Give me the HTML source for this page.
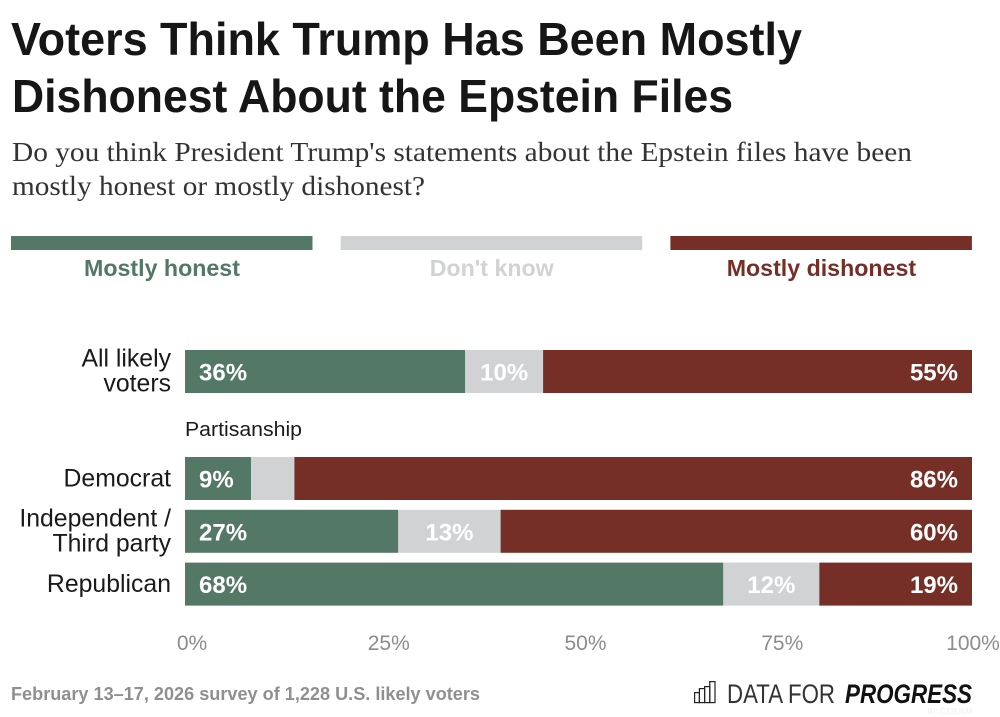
<!DOCTYPE html>
<html lang="en">
<head>
<meta charset="utf-8">
<title>Voters Think Trump Has Been Mostly Dishonest About the Epstein Files</title>
<style>
html,body{margin:0;padding:0;background:#fff;width:1000px;height:717px;overflow:hidden}
svg{display:block}
text{font-family:"Liberation Sans",sans-serif}
.serif{font-family:"Liberation Serif",serif}
</style>
</head>
<body>
<svg id="chart" xmlns="http://www.w3.org/2000/svg" width="1000" height="717" viewBox="0 0 1000 717">
  <rect x="0" y="0" width="1000" height="717" fill="#fff"/>
  <text x="11" y="55" font-size="46" font-weight="700" fill="#161616" textLength="791" lengthAdjust="spacingAndGlyphs">Voters Think Trump Has Been Mostly</text>
  <text x="12" y="112" font-size="46" font-weight="700" fill="#161616" textLength="721" lengthAdjust="spacingAndGlyphs">Dishonest About the Epstein Files</text>
  <text class="serif" x="12" y="161" font-size="27" fill="#333" textLength="900" lengthAdjust="spacingAndGlyphs">Do you think President Trump's statements about the Epstein files have been</text>
  <text class="serif" x="12" y="195" font-size="27" fill="#333" textLength="413" lengthAdjust="spacingAndGlyphs">mostly honest or mostly dishonest?</text>

  <g id="legend"></g>
  <g id="rows"></g>
  <text x="185" y="436" font-size="20" fill="#1a1a1a" textLength="117" lengthAdjust="spacingAndGlyphs">Partisanship</text>
  <g id="x-axis"></g>

  <text x="11" y="700" font-size="18" font-weight="700" fill="#8f8f8f" textLength="469" lengthAdjust="spacingAndGlyphs">February 13–17, 2026 survey of 1,228 U.S. likely voters</text>

  <g>
    <g fill="none" stroke="#222" stroke-width="1.2">
      <rect x="694.6" y="692.6" width="4.8" height="10"/>
      <rect x="699.4" y="688.6" width="5.2" height="14"/>
      <rect x="704.6" y="686.6" width="5.2" height="16"/>
      <rect x="709.8" y="681.6" width="5.2" height="21"/>
    </g>
    <text x="727" y="703" font-size="27" fill="#333" textLength="108" lengthAdjust="spacingAndGlyphs">DATA FOR</text>
    <text x="845" y="703" font-size="27" font-weight="700" font-style="italic" fill="#111" textLength="127" lengthAdjust="spacingAndGlyphs">PROGRESS</text>
  </g>
  <text x="972" y="714" font-size="8" text-anchor="end" fill="#efefef">ID: CZ2U6M</text>
</svg>
<script>
var categories = ['All likely voters', 'Democrat', 'Independent / Third party', 'Republican'];
var categoryLines = [['All likely', 'voters'], ['Democrat'], ['Independent /', 'Third party'], ['Republican']];
var seriesNames = ['Mostly honest', "Don't know", 'Mostly dishonest'];
var honest = [35.6, 8.4, 27.1, 68.4];
var dontKnow = [9.9, 5.5, 13.0, 12.2];
var dishonest = [54.5, 86.1, 59.9, 19.4];
var honestLabels = ['36%', '9%', '27%', '68%'];
var dontKnowLabels = ['10%', '', '13%', '12%'];
var dishonestLabels = ['55%', '86%', '60%', '19%'];
var tickValues = [0, 25, 50, 75, 100];
var tickLabels = ['0%', '25%', '50%', '75%', '100%'];

var NS = 'http://www.w3.org/2000/svg';
var COLORS = ['#537865', '#d1d2d4', '#762f26'];
var PLOT_LEFT = 185, PLOT_WIDTH = 787, BAR_H = 43;

function xScale(v) { return PLOT_LEFT + v / 100 * PLOT_WIDTH; }
function yScale(i) { return i === 0 ? 350 : 457 + (i - 1) * 52.8; }
function mk(tag, parent, attrs, text) {
  var el = document.createElementNS(NS, tag);
  for (var k in attrs) el.setAttribute(k, attrs[k]);
  if (text !== undefined) el.textContent = text;
  parent.appendChild(el);
  return el;
}

var legend = document.getElementById('legend');
seriesNames.forEach(function (name, s) {
  var left = 11 + s * 329.7;
  var swatch = mk('rect', legend, { x: left, y: 236, width: 301.5, height: 14, fill: COLORS[s] });
  
  
  var label = mk('text', legend, { x: left + 151, y: 276, 'font-size': 23.2, 'font-weight': 700, 'text-anchor': 'middle', fill: COLORS[s] }, name);
  
  
});

var rowsG = document.getElementById('rows');
var series = [honest, dontKnow, dishonest];
var labels = [honestLabels, dontKnowLabels, dishonestLabels];
categories.forEach(function (cat, i) {
  var y = yScale(i);
  var lines = categoryLines[i];
  var mid = y + BAR_H / 2;
  lines.forEach(function (line, n) {
    var base = lines.length === 1 ? mid + 8 : mid + 7.7 + (n - 0.5) * 25;
    var t = mk('text', rowsG, { x: 171, y: base, 'font-size': 24.8, 'text-anchor': 'end', fill: '#1a1a1a' }, line);
    
    
  });
  var total = honest[i] + dontKnow[i] + dishonest[i];
  var cum = 0;
  series.forEach(function (vals, s) {
    var pct = vals[i] / total * 100;
    var x0 = xScale(cum), x1 = xScale(cum + pct);
    var r = mk('rect', rowsG, { x: x0, y: y, width: x1 - x0, height: BAR_H, fill: COLORS[s] });
    
    
    var str = labels[s][i];
    if (str) {
      var tx = s === 0 ? x0 + 14 : (s === 1 ? (x0 + x1) / 2 : x1 - 14);
      var anchor = s === 0 ? 'start' : (s === 1 ? 'middle' : 'end');
      var v = mk('text', rowsG, { x: tx, y: mid + 9, 'font-size': 24, 'font-weight': 700, 'text-anchor': anchor, fill: '#fff' }, str);
      
      
    }
    cum += pct;
  });
});

var axisG = document.getElementById('x-axis');
tickValues.forEach(function (tick, i) {
  var offset = tick < 100 ? 7 : 1;
  var t = mk('text', axisG, { x: xScale(tick) + offset, y: 650, 'font-size': 21, 'text-anchor': 'middle', fill: '#8c8c8c' }, tickLabels[i]);
  
  
});
</script>
</body>
</html>
